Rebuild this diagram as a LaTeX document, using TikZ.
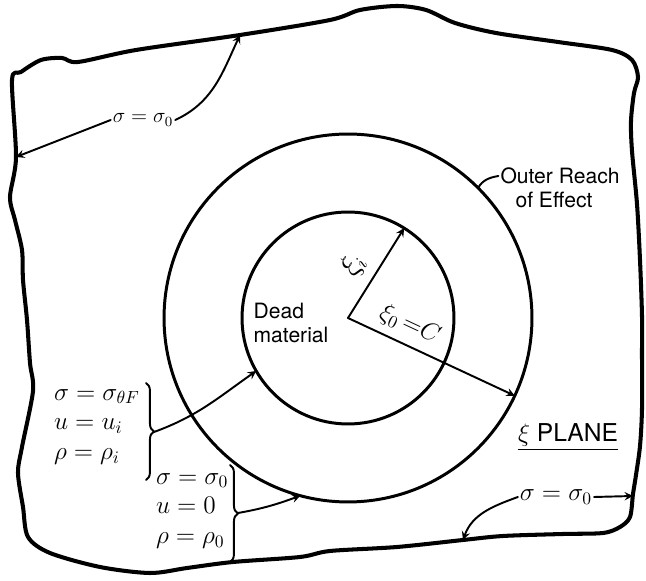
\documentclass[tikz,border=0pt]{standalone}
\usepackage{fontspec}
\setmainfont{TeX Gyre Heros}
\usetikzlibrary{decorations.pathreplacing}
\begin{document}
\begin{tikzpicture}[line cap=round,line join=round,>=stealth,x=0.02cm,y=0.02cm,
	ring/.style={circle,draw,line width=1.7pt,outer sep=0pt,inner sep=0pt},
	lead/.style={->,line width=1.1pt},
	curly/.style={decorate,decoration={brace,amplitude=4.5pt},line width=1.1pt},
	lbl/.style={inner sep=1pt,font=\fontsize{12}{14}\selectfont},
	bc/.style={inner sep=1pt,align=left,font=\fontsize{14}{17}\selectfont}]
	\useasboundingbox (0,0) rectangle (646,581);
	% edge of the plane
	\draw[line width=2.3pt] plot[smooth cycle,tension=0.5] coordinates {
		(12,501) (21,509) (41,521) (62,523) (78,519) (136,531) (240,546) (330,561)
		(360,571) (397,575) (426,571) (455,558) (496,548) (558,539) (612,531)
		(632,521) (638,504) (634,488) (631,460) (632,430) (637,377) (640,321)
		(642,265) (642,228) (642,172) (640,135) (636,106) (633,87) (630,64)
		(620,54) (603,48) (563,47) (503,45) (463,41) (397,34) (330,30) (300,24)
		(233,19) (187,13) (150,8) (100,14) (50,28) (28,44) (23,74) (18,108)
		(22,134) (33,190) (30,218) (27,261) (23,301) (22,331) (15,361) (10,384)
		(16,424)};
	\coordinate (edgeL) at (16,424);
	\coordinate (edgeT) at (240,546);
	\coordinate (edgeB) at (463,41);
	\coordinate (edgeR) at (633,85);
	% circles
	\coordinate (c) at (348,263);
	\node[ring,minimum size=7.36cm] (outer) at (c) {};
	\node[ring,minimum size=4.24cm] (inner) at (c) {};
	\draw[lead] (c) -- (inner.58) node[pos=0.45,above=2pt,sloped,font=\fontsize{16}{18}\selectfont] {$\xi_i$};
	\draw[lead] (c) -- (outer.-25) node[pos=0.32,above=1pt,sloped,font=\fontsize{14}{16}\selectfont] {$\xi_0\,{=}C$};
	% labels
	\node[lbl,align=left] (dead) at (291,258) {Dead\\material};
	\node[lbl] (reach) at (560,405) {Outer Reach};
	\node[lbl] (effect) at (554,381) {of Effect};
	\node[lbl,font=\fontsize{14}{16}\selectfont] (plane) at (568,144) {\underline{$\xi$ PLANE}};
	\node[lbl] (sigtop) at (143,461) {$\sigma = \sigma_0$};
	\node[lbl,font=\fontsize{14}{16}\selectfont] (sigbot) at (556,84) {$\sigma = \sigma_0$};
	% conditions at the two circles
	\node[bc,anchor=west] (inbc) at (52,154)
		{$\sigma = \sigma_{\theta F}$\\ $u = u_i$\\ $\rho = \rho_i$};
	\draw[curly] (146,198) -- (146,101);
	\coordinate (intip) at (154,149);
	\node[bc,anchor=west] (outbc) at (154,70)
		{$\sigma = \sigma_0$\\ $u = 0$\\ $\rho = \rho_0$};
	\draw[curly] (230,116) -- (230,19);
	\coordinate (outtip) at (238,68);
	% leaders
	\draw[lead] (sigtop.west) -- (edgeL);
	\draw[lead] (sigtop.east) to[out=25,in=-115] (edgeT);
	\draw[lead] (sigbot.east) -- (edgeR);
	\draw[lead] (sigbot.west) to[out=200,in=70] (edgeB);
	\draw[lead] (intip) to[out=20,in=215] (inner.210);
	\draw[lead] (outtip) to[out=10,in=200] (outer.255);
	\draw[line width=1.1pt] (reach.west) to[out=190,in=60] (outer.45);
\end{tikzpicture}
\end{document}
